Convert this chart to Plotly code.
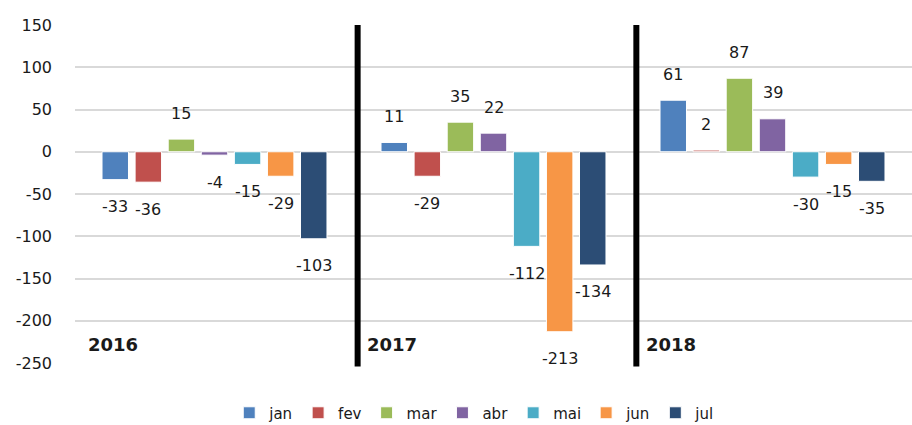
import plotly.graph_objects as go

# ── Data ──────────────────────────────────────────────────────────────────────
years = ["2016", "2017", "2018"]
months = ["jan", "fev", "mar", "abr", "mai", "jun", "jul"]
values = {
    "jan": [-33, 11, 61],
    "fev": [-36, -29, 2],
    "mar": [15, 35, 87],
    "abr": [-4, 22, 39],
    "mai": [-15, -112, -30],
    "jun": [-29, -213, -15],
    "jul": [-103, -134, -35],
}
y_ticks = [150, 100, 50, 0, -50, -100, -150, -200, -250]

# ── Style ─────────────────────────────────────────────────────────────────────
COLORS = {
    "jan": "#4F81BD",
    "fev": "#C0504D",
    "mar": "#9BBB59",
    "abr": "#8064A2",
    "mai": "#4BACC6",
    "jun": "#F79646",
    "jul": "#2C4D75",
}
FONT = "DejaVu Sans"
TEXT = "#1a1a1a"
GRID = "#d9d9d9"

W, H = 912, 425
MARGIN = dict(l=75, r=0, t=25, b=62)
BARGAP = 0.17
# pixel pitch of one bar slot inside a group (used to sit labels over their bar)
SLOT = (W - MARGIN["l"] - MARGIN["r"]) / len(years) * (1 - BARGAP) / len(months)

fig = go.Figure()
for i, m in enumerate(months):
    fig.add_trace(go.Bar(
        name=m, x=years, y=values[m],
        marker=dict(color=COLORS[m], line=dict(color="white", width=1)),
        hoverinfo="x+y+name",
    ))
    # Excel-style data labels, set a bit away from the bar end
    for j, v in enumerate(values[m]):
        fig.add_annotation(text=str(v), xref="x", yref="y", x=j, y=v,
                           xshift=(i - (len(months) - 1) / 2) * SLOT,
                           yshift=26 if v >= 0 else -27,
                           showarrow=False, yanchor="middle",
                           font=dict(family=FONT, size=16, color=TEXT))

# thick separators between the years
for xb in (0.513, 1.512):
    fig.add_shape(type="line", xref="x", yref="paper", x0=xb, x1=xb, y0=-0.01, y1=1.0,
                  line=dict(color="black", width=6))

# year labels, bottom-left of each group
for j, yr in enumerate(years):
    fig.add_annotation(text=f"<b>{yr}</b>", xref="x", yref="y", x=j - 0.46, y=-228,
                       xanchor="left", yanchor="middle", showarrow=False,
                       font=dict(family=FONT, size=18, color=TEXT))

fig.update_layout(
    width=W, height=H,
    margin=dict(**MARGIN, autoexpand=False),
    paper_bgcolor="white", plot_bgcolor="white",
    barmode="group", bargap=BARGAP, bargroupgap=0.2,
    font=dict(family=FONT, size=16, color=TEXT),
    showlegend=True,
    legend=dict(orientation="h", xref="container", yref="paper",
                x=0.52, y=-0.148, xanchor="center", yanchor="middle",
                font=dict(family=FONT, size=15, color=TEXT),
                itemwidth=30, traceorder="normal"),
    xaxis=dict(type="category", showticklabels=False, showgrid=False, zeroline=False,
               showline=False, range=[-0.5, 2.5]),
    yaxis=dict(range=[-250, 150], tickvals=y_ticks, ticktext=[str(t) for t in y_ticks],
               showgrid=True, gridcolor=GRID, gridwidth=1.5, zeroline=False, showline=False,
               ticks="", ticklabelstandoff=22,
               tickfont=dict(family=FONT, size=16, color=TEXT)),
)

fig.write_html("out.html", config={"displayModeBar": False},
               post_script="document.body.style.margin='0';")
